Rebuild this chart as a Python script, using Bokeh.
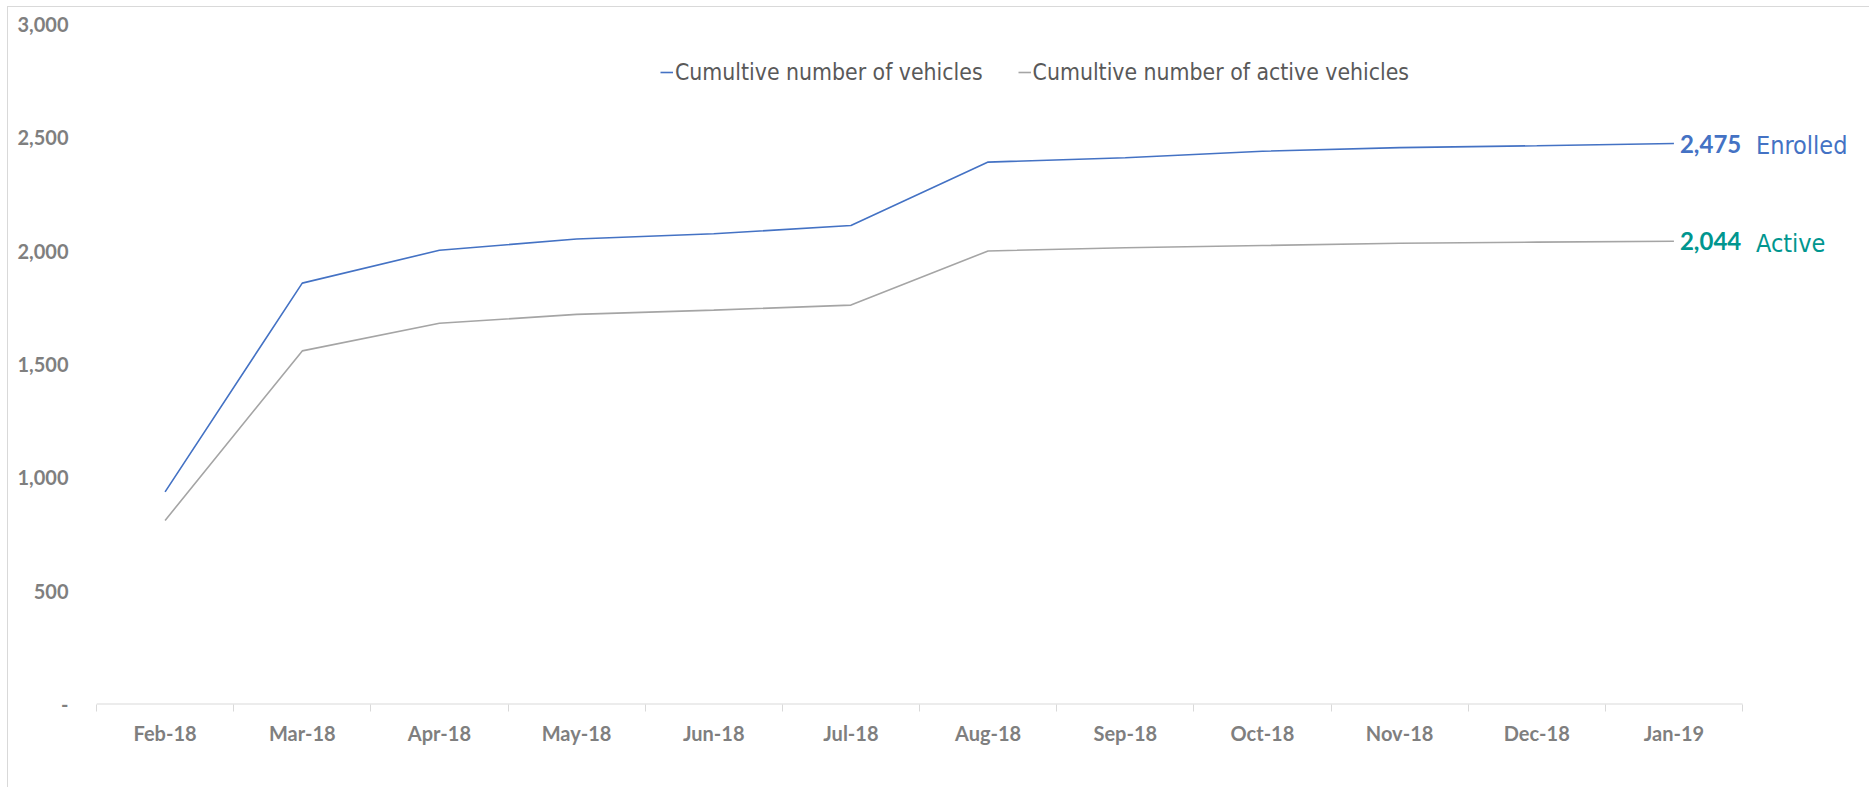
from bokeh.plotting import figure
from bokeh.models import (Range1d, FixedTicker, NumeralTickFormatter, Legend, LegendItem,
                          Label, ColumnDataSource)
from bokeh.embed import file_html
from bokeh.resources import INLINE

months = ["Feb-18", "Mar-18", "Apr-18", "May-18", "Jun-18", "Jul-18",
          "Aug-18", "Sep-18", "Oct-18", "Nov-18", "Dec-18", "Jan-19"]
enrolled = [938, 1859, 2004, 2054, 2077, 2113, 2393, 2412, 2441, 2457, 2465, 2475]
active = [812, 1560, 1682, 1721, 1740, 1762, 2001, 2015, 2025, 2035, 2040, 2044]
y_ticks = [0, 500, 1000, 1500, 2000, 2500, 3000]
series_names = ["Cumultive number of vehicles", "Cumultive number of active vehicles"]
end_names = ["Enrolled", "Active"]

BLUE = "#4472C4"
GRAY = "#A5A5A5"
TEAL = "#00968F"
AXIS_TXT = "#7F7F7F"
LINE_CLR = "#D9D9D9"
NARROW = "DejaVu Sans Condensed"

n = len(months)
idx = list(range(n))
src = ColumnDataSource(dict(x=idx, enrolled=enrolled, active=active))

# extra room (in category widths) to the right of the last category for the end labels
RIGHT_ROOM = 0.933

p = figure(width=1862, height=781, output_backend="svg", toolbar_location=None,
           x_range=Range1d(-0.5, n - 0.5 + RIGHT_ROOM), y_range=Range1d(0, 3000),
           min_border_left=88, min_border_right=0, min_border_top=17, min_border_bottom=84)
p.styles = {"margin-left": "7px", "margin-top": "6px",
            "border-left": "1px solid #D9D9D9", "border-top": "1px solid #D9D9D9"}
p.outline_line_color = None
p.grid.visible = False
p.background_fill_color = "white"
p.border_fill_color = "white"

# category axis line (only across the categories)
p.segment(x0=[-0.5], y0=[0], x1=[n - 0.5], y1=[0], line_color=LINE_CLR, line_width=2)

r1 = p.line("x", "enrolled", source=src, line_color=BLUE, line_width=1.6)
r2 = p.line("x", "active", source=src, line_color=GRAY, line_width=1.6)

# x axis
xa = p.xaxis[0]
xa.ticker = FixedTicker(ticks=idx, minor_ticks=[i - 0.5 for i in range(n + 1)])
xa.major_label_overrides = {i: m for i, m in zip(idx, months)}
xa.major_tick_line_color = None
xa.major_tick_out = 7
xa.major_tick_in = 0
xa.minor_tick_line_color = LINE_CLR
xa.minor_tick_out = 7
xa.minor_tick_in = 0
xa.axis_line_color = None
xa.major_label_text_font = "Lato"
xa.major_label_text_font_style = "bold"
xa.major_label_text_font_size = "20px"
xa.major_label_text_color = AXIS_TXT
xa.major_label_standoff = 9

# y axis
ya = p.yaxis[0]
ya.ticker = FixedTicker(ticks=y_ticks)
ya.formatter = NumeralTickFormatter(format="0,0")
ya.major_label_overrides = {0: "-"}
ya.axis_line_color = None
ya.major_tick_line_color = None
ya.minor_tick_line_color = None
ya.major_tick_out = 0
ya.major_tick_in = 0
ya.major_label_standoff = 28
ya.major_label_text_font = "Lato"
ya.major_label_text_font_style = "bold"
ya.major_label_text_font_size = "20px"
ya.major_label_text_color = AXIS_TXT

# legend
legend = Legend(items=[LegendItem(label=series_names[0], renderers=[r1]),
                       LegendItem(label=series_names[1], renderers=[r2])],
                orientation="horizontal", location=(564, 619),
                padding=0, margin=0, spacing=35, label_standoff=2,
                glyph_width=13, glyph_height=24, label_height=24,
                border_line_color=None, background_fill_alpha=0)
legend.label_text_font = NARROW
legend.label_text_font_size = "22.8px"
legend.label_text_color = "#595959"
p.add_layout(legend)

# end labels
last_x = idx[-1]
for val, name, clr in [(enrolled[-1], end_names[0], BLUE), (active[-1], end_names[1], TEAL)]:
    p.add_layout(Label(x=last_x, y=val, x_offset=6, text=f"{val:,}", text_font="Lato",
                       text_font_style="bold", text_font_size="24px", text_color=clr,
                       text_baseline="middle", text_align="left"))
    p.add_layout(Label(x=last_x, y=val, x_offset=82, y_offset=-2, text=name,
                       text_font=NARROW, text_font_size="25px",
                       text_color=clr, text_baseline="middle", text_align="left"))

open("out.html", "w").write(file_html(p, INLINE))
